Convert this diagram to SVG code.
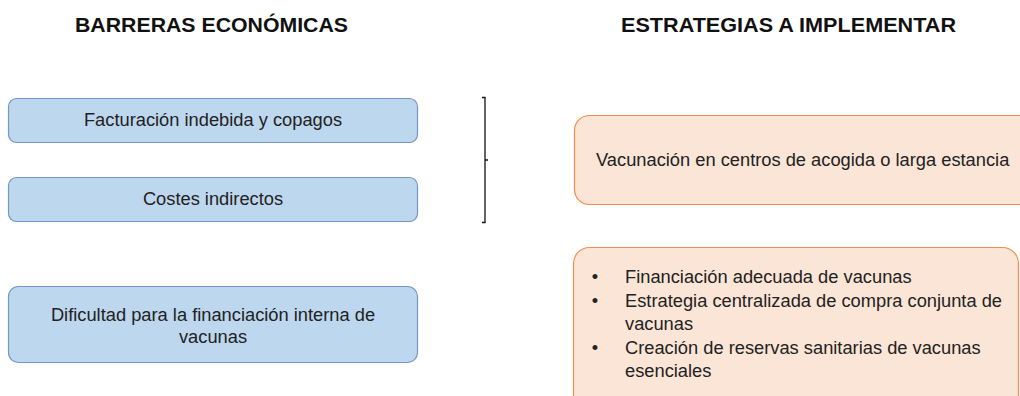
<svg xmlns="http://www.w3.org/2000/svg" width="1020" height="396" viewBox="0 0 1020 396">
  <style>
    .title { font-family: "Liberation Sans", Arial, sans-serif; font-weight: bold; font-size: 21px; fill: #111; }
    .txt { font-family: "Liberation Sans", Arial, sans-serif; font-size: 18.3px; fill: #222; }
    .blue { fill: #BDD7EE; stroke: #7497C6; stroke-width: 1.2; }
    .orange { fill: #FBE5D6; stroke: #F08C4C; stroke-width: 1.2; }
  </style>
  <rect width="1020" height="396" fill="#FFFFFF"/>
  <g id="title-barreras">
    <text class="title" x="211.5" y="32" text-anchor="middle" textLength="273" lengthAdjust="spacingAndGlyphs">BARRERAS ECONÓMICAS</text>
  </g>
  <g id="title-estrategias">
    <text class="title" x="788.5" y="32" text-anchor="middle" textLength="335" lengthAdjust="spacingAndGlyphs">ESTRATEGIAS A IMPLEMENTAR</text>
  </g>
  <g id="node-facturacion">
    <rect class="blue" x="8.5" y="98.5" width="409" height="44" rx="8"/>
    <text class="txt" x="213" y="126" text-anchor="middle">Facturación indebida y copagos</text>
  </g>
  <g id="node-costes">
    <rect class="blue" x="8.5" y="177.5" width="409" height="44" rx="8"/>
    <text class="txt" x="213" y="205" text-anchor="middle">Costes indirectos</text>
  </g>
  <g id="node-dificultad">
    <rect class="blue" x="8.5" y="286.5" width="409" height="76" rx="10"/>
    <text class="txt" x="213" y="321" text-anchor="middle">Dificultad para la financiación interna de</text>
    <text class="txt" x="213" y="343" text-anchor="middle">vacunas</text>
  </g>
  <g id="node-vacunacion">
    <rect class="orange" x="574.5" y="115.5" width="470" height="89" rx="15"/>
    <text class="txt" x="596" y="166">Vacunación en centros de acogida o larga estancia</text>
  </g>
  <g id="node-estrategias">
    <rect class="orange" x="573.5" y="247.5" width="445" height="180" rx="16"/>
    <text class="txt" x="595" y="283" text-anchor="middle">•</text>
    <text class="txt" x="625" y="283">Financiación adecuada de vacunas</text>
    <text class="txt" x="595" y="307" text-anchor="middle">•</text>
    <text class="txt" x="625" y="307">Estrategia centralizada de compra conjunta de</text>
    <text class="txt" x="625" y="330">vacunas</text>
    <text class="txt" x="595" y="354" text-anchor="middle">•</text>
    <text class="txt" x="625" y="354">Creación de reservas sanitarias de vacunas</text>
    <text class="txt" x="625" y="377">esenciales</text>
  </g>
  <g id="connectors">
    <path d="M482,97.5 H485 V222.5 H482 M485,160 H488" fill="none" stroke="#111" stroke-width="1.3"/>
  </g>
</svg>
